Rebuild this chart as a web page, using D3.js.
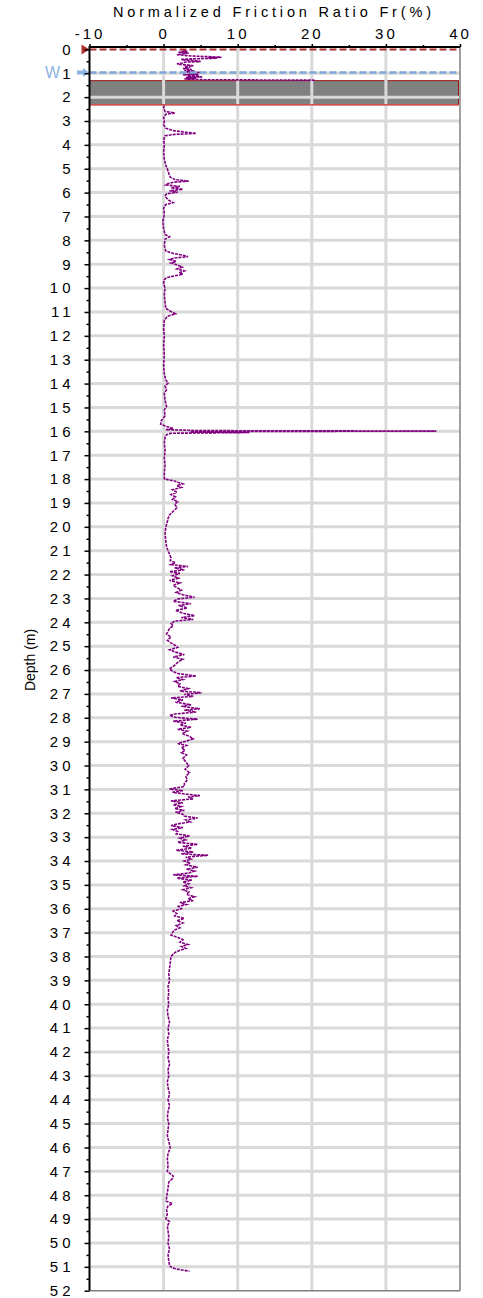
<!DOCTYPE html>
<html>
<head>
<meta charset="utf-8">
<script src="https://cdn.jsdelivr.net/npm/d3@7"></script>
<style>
body { margin: 0; background: #fff; }
svg { display: block; font-family: "Liberation Sans", Arial, sans-serif; }
</style>
</head>
<body>
<div id="chart"></div>
<script>
var depthTop = [0.02,0.05,0.08,0.12,0.15,0.18,0.22,0.25,0.28,0.31,
  0.33,0.35,0.37,0.39,0.42,0.45,0.48,0.51,0.53,0.57,
  0.60,0.63,0.66,0.69,0.72,0.76,0.80,0.84,0.88,0.91,
  0.94,0.97,1.00,1.03,1.06,1.09,1.12,1.15,1.18,1.21,
  1.24,1.27,1.29];
var frTop = [3.0,2.5,3.2,2.0,3.4,2.6,1.8,2.8,4.0,6.5,
  7.8,6.0,7.2,4.5,2.4,3.0,4.5,5.0,3.0,2.5,
  1.8,2.2,3.5,4.0,2.8,3.6,2.6,3.8,2.8,4.2,
  3.0,5.0,3.4,4.6,2.6,4.8,3.2,5.2,3.0,4.4,
  2.8,5.5,20.5];

// main part of the sounding
var depthMain = [2.35,2.45,2.60,2.66,2.72,2.85,3.00,3.15,3.30,3.40,
  3.47,3.52,3.56,3.62,3.80,4.00,4.30,4.60,4.85,5.00,
  5.20,5.35,5.45,5.52,5.56,5.62,5.68,5.74,5.80,5.86,
  5.92,5.98,6.05,6.15,6.30,6.42,6.50,6.65,6.90,7.20,
  7.50,7.75,7.85,7.95,8.20,8.45,8.55,8.62,8.68,8.74,
  8.80,8.88,8.95,9.05,9.12,9.20,9.28,9.36,9.42,9.50,
  9.56,9.65,9.80,10.00,10.30,10.60,10.85,10.98,11.08,11.18,
  11.35,11.70,12.00,12.40,12.80,13.20,13.60,13.85,13.98,14.10,
  14.25,14.40,14.70,14.95,15.10,15.35,15.55,15.70,15.80,15.88,
  15.93,15.97,15.99,16.01,16.03,16.05,16.08,16.14,16.25,16.50,
  16.80,17.10,17.40,17.70,18.00,18.08,18.14,18.20,18.27,18.35,
  18.45,18.55,18.65,18.75,18.85,18.95,19.05,19.20,19.35,19.50,
  19.65,19.80,20.00,20.30,20.60,20.85,21.00,21.15,21.30,21.42,
  21.50,21.58,21.66,21.72,21.80,21.88,21.95,22.05,22.15,22.25,
  22.35,22.45,22.55,22.65,22.75,22.85,22.95,23.02,23.12,23.22,
  23.30,23.40,23.50,23.62,23.72,23.80,23.88,23.95,24.05,24.15,
  24.25,24.38,24.50,24.62,24.75,24.85,24.95,25.05,25.15,25.25,
  25.35,25.45,25.55,25.65,25.80,25.95,26.05,26.15,26.25,26.32,
  26.40,26.48,26.58,26.68,26.78,26.88,26.95,27.02,27.10,27.17,
  27.25,27.35,27.45,27.52,27.62,27.68,27.76,27.84,27.90,27.98,
  28.06,28.14,28.22,28.30,28.40,28.48,28.56,28.66,28.78,28.88,
  28.98,29.08,29.16,29.26,29.36,29.46,29.56,29.70,29.85,30.00,
  30.15,30.30,30.45,30.60,30.75,30.88,30.98,31.05,31.12,31.20,
  31.26,31.32,31.40,31.48,31.56,31.64,31.72,31.80,31.88,31.96,
  32.04,32.12,32.20,32.28,32.36,32.44,32.52,32.60,32.68,32.76,
  32.86,32.95,33.04,33.12,33.22,33.30,33.38,33.46,33.55,33.62,
  33.70,33.76,33.84,33.92,34.00,34.08,34.16,34.26,34.34,34.42,
  34.50,34.58,34.64,34.72,34.80,34.88,34.96,35.04,35.12,35.20,
  35.30,35.40,35.50,35.58,35.66,35.74,35.82,35.90,36.00,36.10,
  36.20,36.30,36.40,36.50,36.60,36.70,36.80,36.90,37.00,37.10,
  37.20,37.30,37.40,37.50,37.58,37.66,37.74,37.82,37.90,38.00,
  38.25,38.50,38.75,39.00,39.25,39.50,39.75,40.00,40.25,40.50,
  40.75,41.00,41.25,41.50,41.75,42.00,42.25,42.50,42.75,43.00,
  43.25,43.50,43.75,44.00,44.25,44.50,44.75,45.00,45.25,45.50,
  45.75,46.00,46.25,46.50,46.75,47.00,47.10,47.20,47.30,47.45,
  47.70,47.90,48.10,48.25,48.35,48.45,48.60,48.80,49.00,49.10,
  49.30,49.50,49.75,50.00,50.25,50.50,50.75,50.95,51.05,51.12,
  51.18];
var frMain = [0.1,0.0,0.2,1.5,0.3,0.0,0.1,0.0,0.3,1.2,
  3.0,4.4,1.5,0.2,0.0,0.1,0.0,0.1,0.3,0.5,
  0.7,0.9,1.5,3.4,1.4,0.6,0.3,2.2,1.0,2.6,
  0.8,1.9,0.4,0.2,0.6,1.3,0.3,0.0,0.1,-0.1,
  0.0,0.2,0.8,0.2,0.1,0.3,1.3,2.6,3.3,1.5,
  0.8,1.7,1.0,2.0,2.5,1.8,2.8,2.1,2.6,1.3,
  0.4,0.1,0.0,0.2,0.1,0.2,0.3,1.0,1.6,0.5,
  0.1,0.0,0.1,0.0,0.1,0.0,0.1,0.3,0.6,0.2,
  0.4,0.1,0.2,0.4,0.1,0.2,-0.3,-0.4,0.4,1.3,
  0.3,5.0,36.8,9.0,3.6,11.6,1.0,0.4,0.2,0.1,
  0.2,0.1,0.2,0.1,0.1,1.5,2.0,2.6,1.8,2.4,
  1.2,1.8,1.0,1.6,1.2,1.9,1.5,1.8,1.3,0.8,
  0.6,0.5,0.3,0.2,0.3,0.4,0.6,0.8,1.0,0.9,
  1.6,1.0,3.3,1.5,2.8,0.8,2.2,1.2,2.0,0.8,
  2.2,1.3,1.8,2.4,1.7,2.6,4.2,2.0,1.3,3.7,
  2.0,3.2,1.6,2.6,4.2,2.4,4.0,1.5,1.0,1.3,
  0.8,0.6,0.4,1.0,0.5,0.9,1.5,1.9,0.8,1.6,
  2.8,1.3,2.6,2.0,1.5,0.8,1.2,2.0,4.4,1.7,
  2.6,1.5,2.2,1.9,3.3,2.2,5.1,2.8,4.0,1.0,
  2.6,1.6,3.7,2.4,4.9,2.8,4.4,1.5,0.8,1.6,
  4.6,1.3,3.0,2.2,3.7,1.9,3.2,2.5,3.5,4.0,
  3.0,1.9,3.1,2.4,2.9,2.4,3.1,2.6,3.0,3.4,
  2.9,3.5,3.0,3.2,2.8,2.8,0.8,2.6,1.2,3.1,
  4.9,3.3,4.0,1.0,2.6,1.3,2.4,1.5,2.8,1.6,
  2.6,2.8,4.6,3.0,3.6,2.0,1.0,2.6,1.2,1.9,
  1.7,3.5,2.2,3.0,1.9,4.6,2.6,3.8,1.7,4.0,
  2.4,6.0,3.0,3.7,2.8,3.6,3.0,4.6,3.1,4.2,
  3.4,1.3,4.6,1.8,3.8,2.6,3.4,2.8,3.7,2.6,
  3.4,3.1,4.2,3.3,4.0,2.2,3.1,2.0,2.4,1.3,
  1.8,1.5,2.8,1.8,2.6,1.7,2.2,1.4,1.2,1.0,
  1.9,2.6,2.2,3.3,2.4,3.0,2.2,1.6,1.3,1.0,
  0.9,0.8,0.7,0.8,0.6,0.7,0.6,0.7,0.5,0.6,
  0.8,0.6,0.7,0.5,0.6,0.7,0.6,0.8,0.6,0.7,
  0.5,0.6,0.8,0.6,0.8,0.6,0.5,0.7,0.6,0.5,
  0.7,0.9,0.6,0.5,0.6,0.5,0.9,1.3,1.2,0.7,
  0.6,0.5,0.4,0.35,1.2,0.6,0.4,0.5,0.3,0.8,
  0.5,0.6,0.7,0.6,0.8,0.6,0.7,0.8,1.2,2.2,
  3.5];

var xTicks = [-10, 0, 10, 20, 30, 40];
var xMinor = [-5, 5, 15, 25, 35];
var xGrid = [0, 10, 20, 30];
var depthTicks = d3.range(0, 53);
var depthMinor = d3.range(0.5, 52, 1);
var waterDepth = 0.97;
var predrillTop = 1.31, predrillBottom = 2.32;

var width = 483, height = 1298;
var svg = d3.select("#chart").append("svg")
  .attr("width", width).attr("height", height);

var x = d3.scaleLinear().domain([-10, 40]).range([89.5, 460]);
var y = d3.scaleLinear().domain([-0.1, 52]).range([47, 1290.7]);
var top0 = y.range()[0], bot = y.range()[1];

// predrilled band
svg.append("rect")
  .attr("x", x(-10)).attr("y", y(predrillTop))
  .attr("width", x(40) - x(-10) - 1.5)
  .attr("height", y(predrillBottom) - y(predrillTop))
  .attr("fill", "#808080")
  .attr("stroke", "#9a1515").attr("stroke-width", 1);

// grid
svg.append("g").selectAll("line").data(xGrid).enter().append("line")
  .attr("x1", d => x(d)).attr("x2", d => x(d))
  .attr("y1", top0).attr("y2", bot)
  .attr("stroke", "#d9d9d9").attr("stroke-width", 3);
svg.append("g").selectAll("line").data(depthTicks.filter(d => d > 0 && d < 52)).enter().append("line")
  .attr("x1", x(-10)).attr("x2", x(40))
  .attr("y1", d => y(d)).attr("y2", d => y(d))
  .attr("stroke", "#d9d9d9").attr("stroke-width", 3);

svg.append("line")
  .attr("x1", x(-10)).attr("x2", x(40) - 1.5)
  .attr("y1", y(predrillBottom)).attr("y2", y(predrillBottom))
  .attr("stroke", "#d05050").attr("stroke-width", 1.5);

// trace
var line = d3.line().x(d => x(d[1])).y(d => y(d[0]));
[d3.zip(depthTop, frTop), d3.zip(depthMain, frMain)].forEach(function(seg) {
  svg.append("path").datum(seg)
    .attr("d", line)
    .attr("fill", "none")
    .attr("stroke", "#800080")
    .attr("stroke-width", 1.6)
    .attr("stroke-dasharray", "3,1");
});

// ground surface + water level
svg.append("line")
  .attr("x1", x(-10)).attr("x2", x(40))
  .attr("y1", y(0)).attr("y2", y(0))
  .attr("stroke", "#b03030").attr("stroke-width", 2)
  .attr("stroke-dasharray", "7,3");
svg.append("path")
  .attr("d", "M" + (x(-10) - 8) + "," + (y(0) - 5) + "L" + x(-10) + "," + y(0) + "L" + (x(-10) - 8) + "," + (y(0) + 5) + "Z")
  .attr("fill", "#b03030");

svg.append("line")
  .attr("x1", x(-10)).attr("x2", x(40))
  .attr("y1", y(waterDepth)).attr("y2", y(waterDepth))
  .attr("stroke", "#7fa7d9").attr("stroke-width", 2.5)
  .attr("stroke-dasharray", "7,3");
var wy = y(waterDepth);
svg.append("path")
  .attr("d", "M77," + (wy - 2) + "L83," + (wy - 2) + "L83," + (wy - 4.5) + "L89," + wy +
    "L83," + (wy + 4.5) + "L83," + (wy + 2) + "L77," + (wy + 2) + "Z")
  .attr("fill", "#8db3e2");

// axes
var topAxis = svg.append("g").attr("transform", "translate(0," + top0 + ")")
  .call(d3.axisTop(x).tickValues(xTicks).tickSize(3).tickPadding(5).tickFormat(d => String(d)));
topAxis.select(".domain").remove();
topAxis.selectAll("text").attr("font-size", 15).attr("fill", "#000")
  .style("letter-spacing", "3px").attr("font-family", null);
svg.append("g").attr("transform", "translate(0," + top0 + ")")
  .call(d3.axisTop(x).tickValues(xMinor).tickSize(2).tickFormat(""))
  .select(".domain").remove();

var leftAxis = svg.append("g").attr("transform", "translate(" + x(-10) + ",0)")
  .call(d3.axisLeft(y).tickValues(depthTicks).tickSize(5).tickPadding(10));
leftAxis.select(".domain").remove();
leftAxis.selectAll("text").attr("font-size", 15).attr("fill", "#000")
  .style("letter-spacing", "4px").attr("font-family", null);
svg.append("g").attr("transform", "translate(" + x(-10) + ",0)")
  .call(d3.axisLeft(y).tickValues(depthMinor).tickSize(3).tickFormat(""))
  .select(".domain").remove();

svg.selectAll(".tick line").attr("stroke", "#000").attr("stroke-width", 1.5);

// frame
svg.append("line").attr("x1", x(40)).attr("x2", x(40)).attr("y1", top0).attr("y2", bot)
  .attr("stroke", "#808080").attr("stroke-width", 1.5);
svg.append("line").attr("x1", x(-10)).attr("x2", x(40)).attr("y1", bot).attr("y2", bot)
  .attr("stroke", "#808080").attr("stroke-width", 1.5);
svg.append("line").attr("x1", x(-10)).attr("x2", x(40)).attr("y1", top0).attr("y2", top0)
  .attr("stroke", "#000").attr("stroke-width", 2);
svg.append("line").attr("x1", x(-10)).attr("x2", x(-10)).attr("y1", top0 - 1).attr("y2", bot)
  .attr("stroke", "#000").attr("stroke-width", 2);

// labels
svg.append("text")
  .attr("x", 45).attr("y", wy + 5.5)
  .attr("font-size", 16).attr("fill", "#8db3e2")
  .text("W");

svg.append("text")
  .attr("x", 113).attr("y", 17)
  .attr("font-size", 14.5)
  .attr("textLength", 318).attr("lengthAdjust", "spacing")
  .text("Normalized Friction Ratio Fr(%)");

svg.append("text")
  .attr("transform", "translate(35,660) rotate(-90)")
  .attr("text-anchor", "middle")
  .attr("font-size", 14)
  .text("Depth (m)");
</script>
</body>
</html>
